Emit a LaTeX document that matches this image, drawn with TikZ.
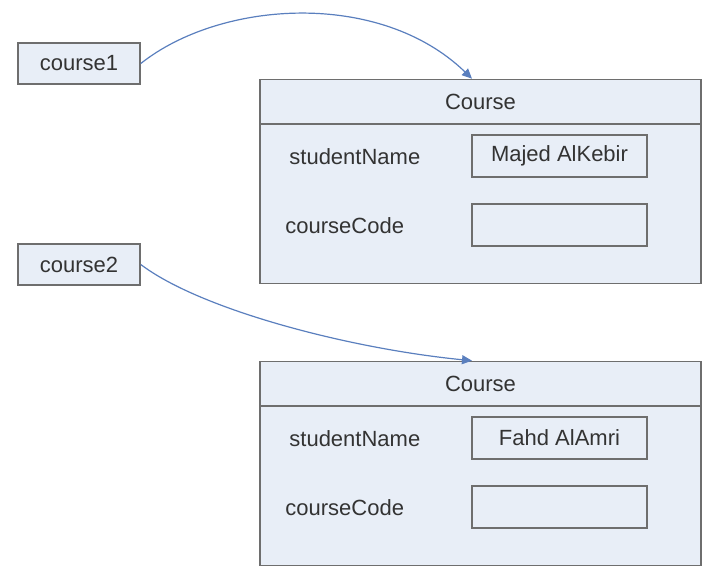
\documentclass[tikz,border=0pt]{standalone}
\usepackage{fontspec}
\setmainfont{Liberation Sans}
\usetikzlibrary{calc}
\usetikzlibrary{arrows.meta}

\definecolor{boxfill}{HTML}{E8EEF7}
\definecolor{boxline}{HTML}{6E6E6E}
\definecolor{reflink}{HTML}{5A7FBE}
\definecolor{txt}{HTML}{333333}

\tikzset{
  refbox/.style={draw=boxline, line width=0.8pt, fill=boxfill, minimum width=61pt, minimum height=20.5pt, text=txt},
  objbox/.style={draw=boxline, line width=0.8pt, fill=boxfill, minimum width=220.5pt, minimum height=102pt},
  valbox/.style={draw=boxline, line width=0.8pt, fill=boxfill, minimum width=87.5pt, minimum height=21pt, text=txt},
  field/.style={anchor=west, text=txt, inner sep=0pt},
  link/.style={reflink, line width=0.6pt, -{Triangle[length=5pt, width=4.5pt]}}
}

\begin{document}
\begin{tikzpicture}[x=0.5pt, y=-0.5pt, font=\fontsize{11}{13}\selectfont]

\useasboundingbox (0,0) rectangle (705,568);

\node[refbox] (c1) at (79,63.5) {course1};
\node[refbox] (c2) at (79,264.5) {course2};

\foreach \i/\dy/\who in {1/0/Majed AlKebir, 2/282/Fahd AlAmri}{
	\node[objbox] (obj\i) at (480.5,181.5+\dy) {};
	\draw[boxline, line width=0.8pt] (260,124+\dy) -- (701,124+\dy);
	\node[text=txt] (title\i) at (480.5,101.5+\dy) {Course};
	\node[field] (sn\i) at (289,157+\dy) {studentName};
	\node[field] (cc\i) at (285,226+\dy) {courseCode};
	\node[valbox] (snv\i) at (559.5,156+\dy) {\who};
	\node[valbox] (ccv\i) at (559.5,225+\dy) {};
}

\draw[link] (c1.east) .. controls +(80,-63.5) and +(-92,-89) .. ([xshift=-4.25pt]obj1.north);
\draw[link] (c2.east) .. controls +(60,45.5) and +(-122,-12) .. ([xshift=-4.25pt]obj2.north);

\end{tikzpicture}
\end{document}
